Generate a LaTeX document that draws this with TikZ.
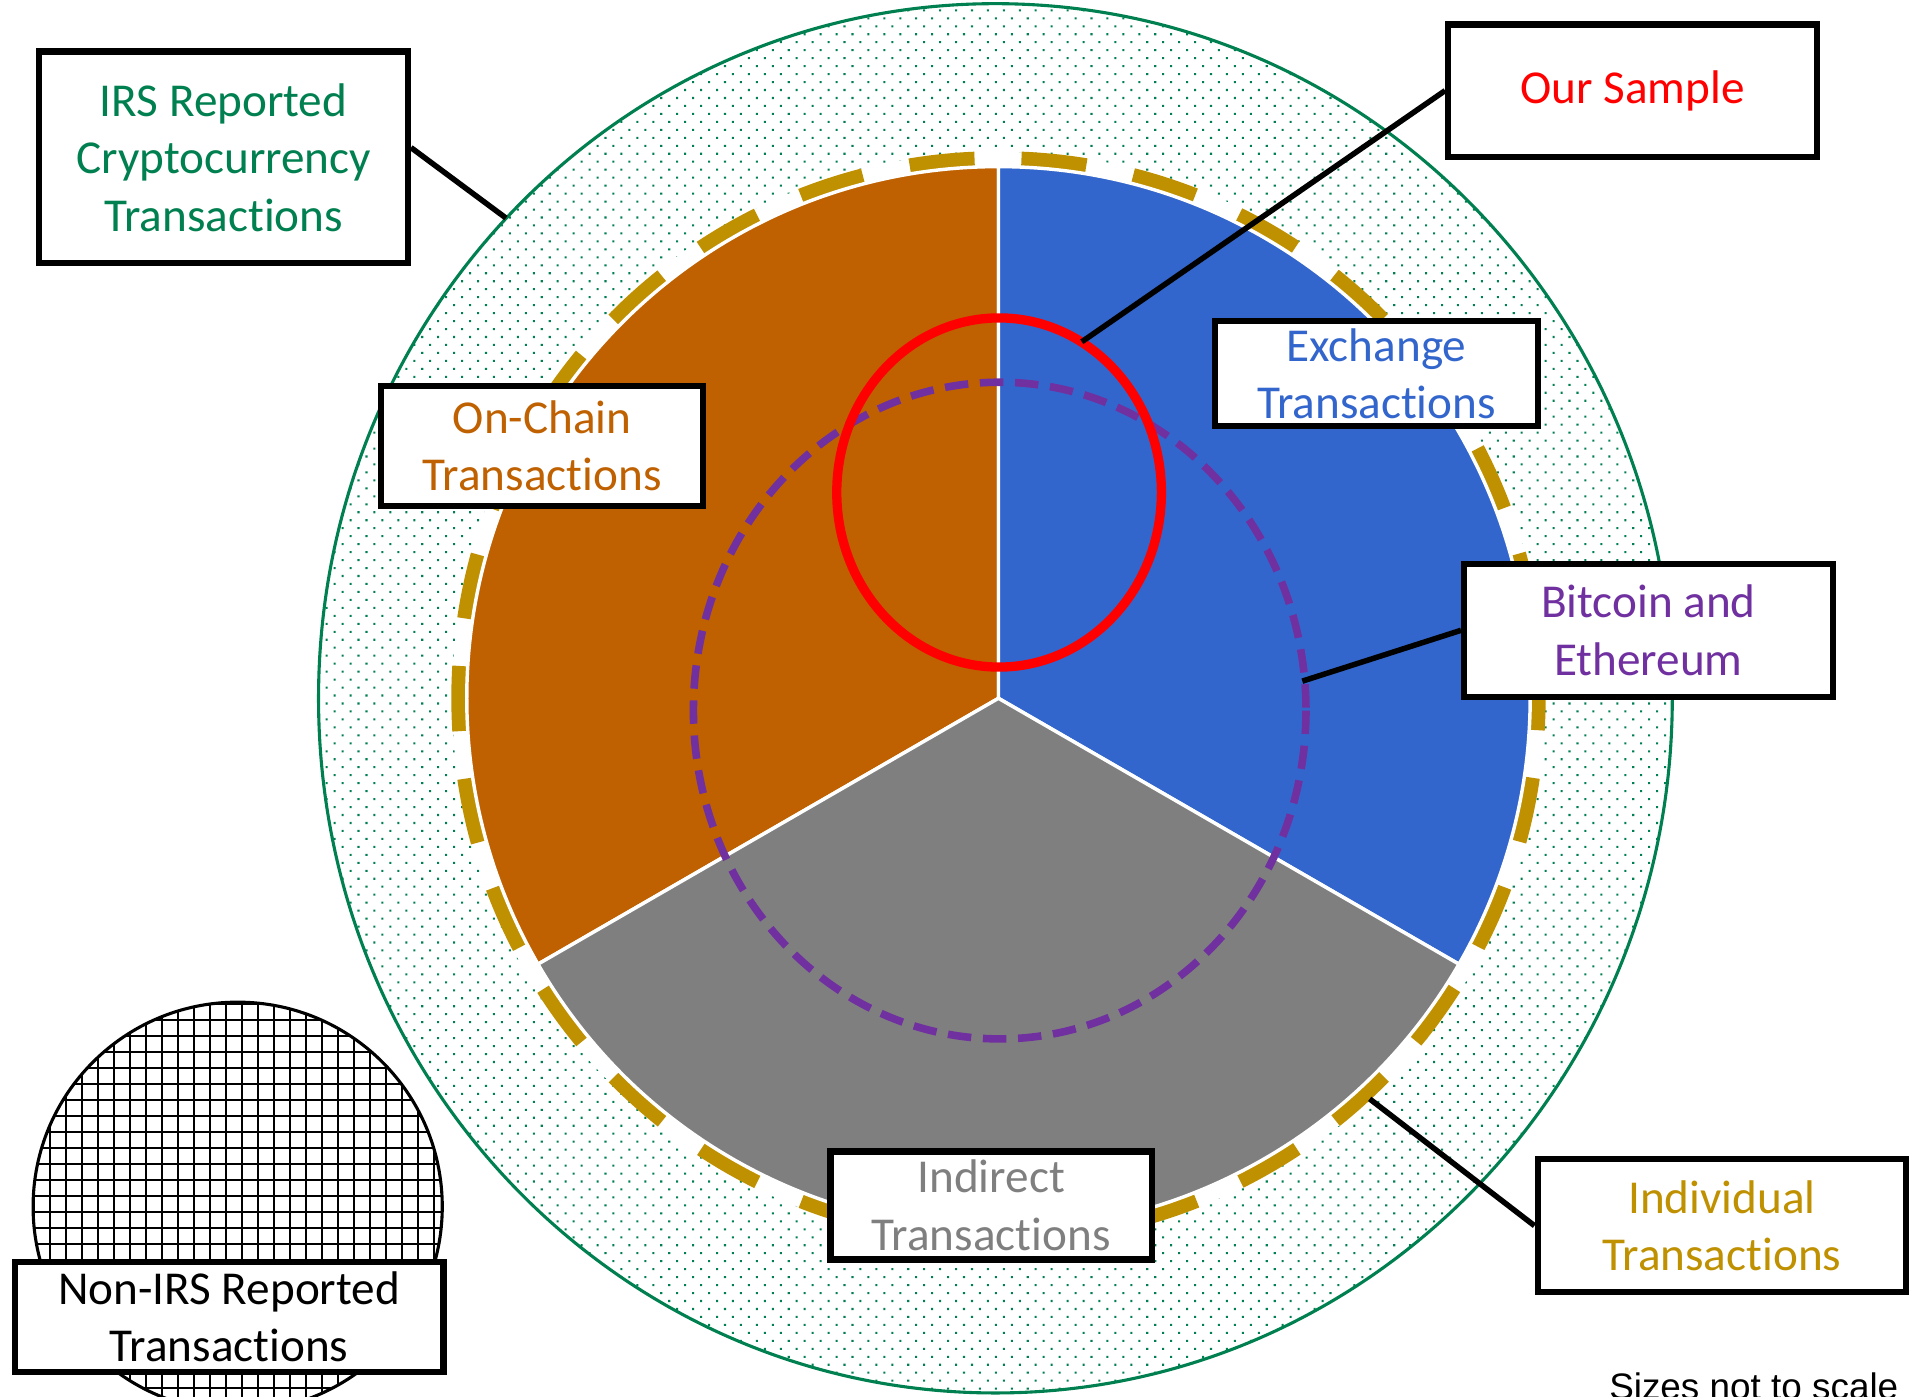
\documentclass[tikz,border=0pt]{standalone}
\usepackage{fontspec}
\setmainfont{Carlito}[Ligatures={NoCommon}]
\newfontfamily\notefont{Liberation Sans}
\usetikzlibrary{patterns.meta}
\definecolor{irsgreen}{RGB}{0,128,80}
\definecolor{chainorange}{RGB}{191,97,0}
\definecolor{exblue}{RGB}{51,102,204}
\definecolor{indgray}{RGB}{127,127,127}
\definecolor{indivgold}{RGB}{191,144,0}
\definecolor{btcpurple}{RGB}{112,48,160}
\definecolor{samplered}{RGB}{255,0,0}

\begin{document}
\begin{tikzpicture}[x=0.0125cm, y=-0.0125cm,
  tagbox/.style={draw=black, line width=1.8pt, fill=white, align=center, inner sep=0pt,
    font=\fontsize{13.7}{16.7}\selectfont},
  lead/.style={line width=1.6pt, black}]
\useasboundingbox (0,0) rectangle (1568,1140);
\fill[white] (0,0) rectangle (1568,1140);
% outer set: IRS reported transactions
\draw[irsgreen, line width=0.9pt, pattern={Dots[angle=45, distance=3.27pt, radius=0.42pt]}, pattern color=irsgreen]
  (812.5,570) ellipse (552.5 and 567);
% individual transactions: gold dashed ring
\fill[white] (815,570) circle (446);
\draw[indivgold, line width=4.7pt, dash pattern=on 18.9pt off 13.88pt, dash phase=25.84pt]
  (815,570) ++(270:440) arc[start angle=270, end angle=-90, radius=440];
% pie: on-chain, exchange, indirect
\filldraw[fill=chainorange, draw=white, line width=1pt] (815,570) -- ++(270:434) arc[start angle=270, end angle=150, radius=434] -- cycle;
\filldraw[fill=exblue, draw=white, line width=1pt] (815,570) -- ++(270:434) arc[start angle=270, end angle=390, radius=434] -- cycle;
\filldraw[fill=indgray, draw=white, line width=1pt] (815,570) -- ++(150:434) arc[start angle=150, end angle=30, radius=434] -- cycle;
% bitcoin and ethereum
\draw[btcpurple, line width=2.2pt, dash pattern=on 6.8pt off 3.4pt] (816,580) ellipse (250 and 268);
% our sample
\draw[samplered, line width=2.7pt] (815.5,402) ellipse (132.5 and 142.5);
% non-IRS reported: checkered circle
\begin{scope}
\clip (194,985) circle (167);
\foreach \k in {-1,...,25} \draw[line width=0.5pt] (40.8+13.06*\k,800) -- (40.8+13.06*\k,1160);
\foreach \k in {-11,...,17} \draw[line width=0.5pt] (20,937+13.06*\k) -- (370,937+13.06*\k);
\end{scope}
\draw[line width=0.9pt] (194,985) circle (167);
% labels
\node[tagbox, text=irsgreen, minimum width=3.76cm, minimum height=2.16cm] (irs) at (182.5,128.5) {IRS Reported\\Cryptocurrency\\Transactions};
\node[tagbox, text=samplered, minimum width=3.76cm, minimum height=1.35cm] (sample) at (1332.5,74) {Our Sample};
\node[tagbox, text=exblue, minimum width=3.29cm, minimum height=1.075cm] (exch) at (1123.5,305) {Exchange\\Transactions};
\node[tagbox, text=chainorange, minimum width=3.29cm, minimum height=1.225cm] (chain) at (442.5,364) {On-Chain\\Transactions};
\node[tagbox, text=btcpurple, minimum width=3.76cm, minimum height=1.36cm] (btc) at (1345.5,514.5) {Bitcoin and\\Ethereum};
\node[tagbox, text=indivgold, minimum width=3.76cm, minimum height=1.36cm] (indiv) at (1405.5,1000.5) {Individual\\Transactions};
\node[tagbox, text=indgray, minimum width=3.275cm, minimum height=1.1cm] (indirect) at (809,984) {Indirect\\Transactions};
\node[tagbox, minimum width=4.375cm, minimum height=1.125cm] (nonirs) at (187,1075) {Non-IRS Reported\\Transactions};
% leader lines
\coordinate (irsend) at (413,178);
\coordinate (sampleend) at (883,279);
\coordinate (btcend) at (1063,556);
\coordinate (indivend) at (1118,897);
\draw[lead] (irs.3) -- (irsend);
\draw[lead] (sample.west) -- (sampleend);
\draw[lead] (btc.west) -- (btcend);
\draw[lead] (indiv.west) -- (indivend);
\node[anchor=base west, inner sep=0pt, font=\notefont\fontsize{10.7}{12}\selectfont] (note) at (1313,1142.5) {Sizes not to scale};
\end{tikzpicture}
\end{document}
